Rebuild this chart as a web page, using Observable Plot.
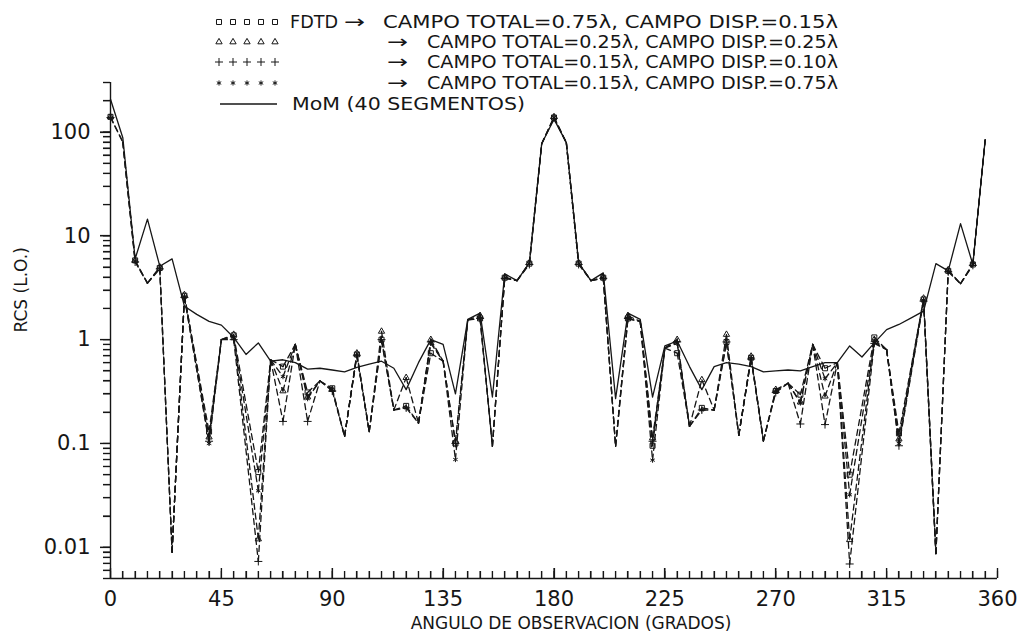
<!DOCTYPE html>
<html><head><meta charset="utf-8">
<script src="https://cdn.jsdelivr.net/npm/d3@7"></script>
<script src="https://cdn.jsdelivr.net/npm/@observablehq/plot@0.6"></script>
<style>
html,body{margin:0;padding:0;background:#fff;}
#wrap{position:relative;width:1020px;height:637px;}
#wrap svg.overlay{position:absolute;left:0;top:0;pointer-events:none;}
</style></head><body><div id="wrap"></div>
<script>
const FONT = '"DejaVu Sans", "Liberation Sans", sans-serif';
const INK = "#161616";

// ---- MoM (40 segmentos), every 5 degrees
const momAngles = [0,5,10,15,20,25,30,35,40,45,50,55,60,65,70,75,80,85,90,95,100,105,110,115,120,125,130,135,140,145,150,155,160,165,170,175,180,185,190,195,200,205,210,215,220,225,230,235,240,245,250,255,260,265,270,275,280,285,290,295,300,305,310,315,320,325,330,335,340,345,350,355];
const momRcs = [207,88,6.0,14.5,5.1,6.0,2.1,1.75,1.5,1.38,1.05,0.72,0.93,0.62,0.64,0.6,0.52,0.53,0.51,0.49,0.54,0.58,0.62,0.53,0.33,0.6,1.0,0.9,0.3,1.57,1.8,0.28,4.3,3.7,5.5,77,133,79,5.5,3.7,4.4,0.27,1.8,1.57,0.28,0.87,0.97,0.55,0.33,0.55,0.6,0.58,0.55,0.49,0.5,0.51,0.5,0.55,0.6,0.6,0.87,0.68,0.93,1.25,1.4,1.62,1.88,5.4,4.6,13.1,5.3,84];

// ---- FDTD, marker angles (every 10 degrees)
const markerAngles = [0,10,20,30,40,50,60,70,80,90,100,110,120,130,140,150,160,170,180,190,200,210,220,230,240,250,260,270,280,290,300,310,320,330,340,350];
const squareRcs   = [140,5.8,4.9,2.65,0.13,1.1,0.053,0.55,0.31,0.34,0.72,1.0,0.23,0.74,0.1,1.6,3.95,5.4,138,5.4,3.95,1.6,0.095,0.74,0.22,0.95,0.67,0.32,0.295,0.53,0.05,1.05,0.125,2.44,4.6,5.3];
const triangleRcs = [140,5.8,5.0,2.7,0.115,1.12,0.012,0.32,0.28,0.33,0.74,1.2,0.43,1.0,0.105,1.7,4.0,5.5,140,5.5,4.0,1.7,0.113,1.0,0.41,1.12,0.69,0.33,0.25,0.285,0.0118,1.0,0.11,2.5,4.7,5.4];
const plusRcs     = [138,5.6,4.8,2.55,0.105,1.0,0.0073,0.163,0.163,0.32,0.7,1.0,0.22,0.95,0.1,1.6,3.9,5.3,136,5.3,3.9,1.6,0.105,0.95,0.21,0.95,0.65,0.31,0.154,0.152,0.0069,0.92,0.095,2.35,4.5,5.2];
const starRcs     = [138,5.7,4.9,2.6,0.1,1.05,0.035,0.44,0.27,0.33,0.71,0.97,0.22,0.92,0.07,1.58,3.95,5.4,138,5.4,3.95,1.58,0.069,0.92,0.21,0.92,0.66,0.32,0.245,0.42,0.032,0.95,0.1,2.4,4.6,5.3];

// ---- FDTD, shared intermediate vertices of the dashed curves (null = no vertex)
const betweenAngles = [5,15,25,35,45,55,65,75,85,95,105,115,125,135,145,155,165,175,185,195,205,215,225,235,245,255,265,275,285,295,305,315,325,335,345,355];
const betweenRcs = [80,3.5,0.009,null,1.0,null,0.64,0.9,0.4,0.117,0.13,0.21,0.157,0.62,1.55,0.094,3.7,77,79,3.7,0.094,1.5,0.83,0.146,0.21,0.12,0.106,0.38,0.9,0.6,null,0.8,null,0.0087,3.46,84];

// ---- texts and ticks
const legendTexts = [
  "CAMPO TOTAL=0.75λ, CAMPO DISP.=0.15λ",
  "CAMPO TOTAL=0.25λ, CAMPO DISP.=0.25λ",
  "CAMPO TOTAL=0.15λ, CAMPO DISP.=0.10λ",
  "CAMPO TOTAL=0.15λ, CAMPO DISP.=0.75λ"
];
const legendFdtd = "FDTD";
const legendMom = "MoM (40 SEGMENTOS)";
const xTitle = "ANGULO DE OBSERVACION (GRADOS)";
const yTitle = "RCS (L.O.)";
const xDomain = [0, 360];
const yDomain = [0.005, 300];
const xMajorTicks = [0,45,90,135,180,225,270,315,360];
const xMinorTicks = d3.range(0, 361, 5);
const yMajorTicks = [0.01, 0.1, 1, 10, 100];
const yTickLabels = ["0.01", "0.1", "1", "10", "100"];
const yMinorTicks = [];
for (let e = -3; e <= 2; e++) for (let m = 1; m <= 9; m++) {
  const v = +(m * Math.pow(10, e)).toPrecision(3);
  if (v >= yDomain[0] && v <= yDomain[1]) yMinorTicks.push(v);
}

// ---- layout
const W = 1020, H = 637, mL = 110, mR = 23, mT = 82, mB = 59;
const frameW = W - mL - mR, frameH = H - mT - mB;

// ---- tables
const mom = momAngles.map((a, i) => ({angle: a, rcs: momRcs[i]}));
const series = [
  {key: "sq", symbol: "square2", r: 3.2, values: squareRcs, d3sym: d3.symbolSquare2},
  {key: "tr", symbol: "triangle2", r: 3.0, values: triangleRcs, d3sym: d3.symbolTriangle2},
  {key: "pl", symbol: "plus", r: 2.7, values: plusRcs, d3sym: d3.symbolPlus},
  {key: "st", symbol: "asterisk", r: 2.4, values: starRcs, d3sym: d3.symbolAsterisk}
];
// each dashed curve is split into its segments so that coinciding pieces keep the same dash phase
const fdtdSegments = [];
const seen = new Set();
for (const s of series) {
  const pts = markerAngles.map((a, i) => ({angle: a, rcs: s.values[i]}))
    .concat(betweenAngles.map((a, i) => ({angle: a, rcs: betweenRcs[i]})).filter(d => d.rcs != null))
    .sort((p, q) => p.angle - q.angle);
  for (let i = 1; i < pts.length; i++) {
    const a = pts[i - 1], b = pts[i];
    const id = `${a.angle}:${a.rcs}-${b.angle}:${b.rcs}`;
    if (seen.has(id)) continue;
    seen.add(id);
    fdtdSegments.push({seg: id, angle: a.angle, rcs: a.rcs}, {seg: id, angle: b.angle, rcs: b.rcs});
  }
}

const dotMarks = series.map(s => Plot.dot(markerAngles.map((a, i) => ({angle: a, rcs: s.values[i]})), {
  x: "angle", y: "rcs", symbol: s.symbol, r: s.r, stroke: INK, strokeWidth: 1, fill: "none"
}));

const chart = Plot.plot({
  width: W, height: H,
  marginLeft: mL, marginRight: mR, marginTop: mT, marginBottom: mB,
  x: {domain: xDomain},
  y: {type: "log", domain: yDomain},
  style: {fontFamily: FONT, color: INK, background: "white"},
  marks: [
    Plot.line(mom, {x: "angle", y: "rcs", stroke: INK, strokeWidth: 1.3}),
    Plot.line(fdtdSegments, {x: "angle", y: "rcs", z: "seg", stroke: INK, strokeWidth: 1.3, strokeDasharray: "6,4"}),
    ...dotMarks,
    Plot.tickY(yMinorTicks, {y: d => d, insetLeft: -7, insetRight: frameW, stroke: INK, strokeWidth: 1.2}),
    Plot.tickY(yMajorTicks, {y: d => d, insetLeft: -10, insetRight: frameW, stroke: INK, strokeWidth: 1.2}),
    Plot.tickX(xMinorTicks, {x: d => d, insetTop: frameH - 7, stroke: INK, strokeWidth: 1.2}),
    Plot.tickX(xMajorTicks, {x: d => d, insetTop: frameH - 10, stroke: INK, strokeWidth: 1.2}),
    Plot.axisY({ticks: yMajorTicks, tickSize: 0, tickPadding: 20, tickFormat: d => yTickLabels[yMajorTicks.indexOf(d)], label: null, fontSize: 21, fill: INK}),
    Plot.axisX({ticks: xMajorTicks, tickSize: 0, tickPadding: 13, tickFormat: d => String(d), label: null, fontSize: 21, fill: INK}),
    Plot.ruleX([xDomain[0]], {stroke: INK, strokeWidth: 1.4}),
    Plot.ruleY([yDomain[0]], {stroke: INK, strokeWidth: 1.4}),
    Plot.text([xTitle], {text: d => d, frameAnchor: "bottom", dx: 17, dy: 50, fontSize: 17, fill: INK}),
    Plot.text([yTitle], {text: d => d, frameAnchor: "left", rotate: -90, dx: -89, dy: 2, fontSize: 17, fill: INK})
  ]
});
const wrap = document.getElementById("wrap");
wrap.appendChild(chart);

// make sure the FDTD curves keep their dash pattern
const lineGroups = chart.querySelectorAll('g[aria-label="line"]');
if (lineGroups.length > 1) {
  d3.select(lineGroups[1]).selectAll("path").style("stroke-dasharray", "6 4").style("stroke-width", "1.3px");
}

// ---- overlay: axis ticks (through the chart's own scales) and legend
const xs = chart.scale("x"), ys = chart.scale("y");
const ov = d3.create("svg").attr("class", "overlay").attr("width", W).attr("height", H)
  .style("font-family", FONT).attr("fill", INK);
const tg = ov.append("g").attr("stroke", INK).attr("stroke-width", 1.2);
xMinorTicks.forEach(t => {
  const x = Math.round(xs.apply(t)) + 0.5;
  const len = xMajorTicks.includes(t) ? 10 : 7;
  tg.append("line").attr("x1", x).attr("x2", x).attr("y1", H - mB).attr("y2", H - mB - len);
});
yMinorTicks.forEach(t => {
  const y = Math.round(ys.apply(t)) + 0.5;
  const len = yMajorTicks.includes(t) ? 10 : 7;
  tg.append("line").attr("x1", mL).attr("x2", mL - len).attr("y1", y).attr("y2", y);
});

const rowY = [22, 42, 62, 83, 104];
const markerX = [219, 233, 247, 261, 275];
series.forEach((s, row) => {
  markerX.forEach(x => {
    ov.append("path")
      .attr("d", d3.symbol().type(s.d3sym).size(Math.PI * s.r * s.r)())
      .attr("transform", `translate(${x},${rowY[row]})`)
      .attr("fill", "none").attr("stroke", INK).attr("stroke-width", 1);
  });
  const arrowX = row === 0 ? 344 : 387;
  const textX = row === 0 ? 383 : 427;
  const textW = row === 0 ? 455 : 411;
  if (row === 0) {
    ov.append("text").attr("x", 290).attr("y", rowY[row]).attr("dy", "0.36em")
      .attr("font-size", 18).attr("textLength", 48).attr("lengthAdjust", "spacingAndGlyphs").text(legendFdtd);
  }
  ov.append("text").attr("x", arrowX).attr("y", rowY[row]).attr("dy", "0.36em")
    .attr("font-size", 18).attr("textLength", 21).attr("lengthAdjust", "spacingAndGlyphs").text("→");
  ov.append("text").attr("x", textX).attr("y", rowY[row]).attr("dy", "0.36em")
    .attr("font-size", 18).attr("textLength", textW).attr("lengthAdjust", "spacingAndGlyphs").text(legendTexts[row]);
});
ov.append("line").attr("x1", 220).attr("x2", 277).attr("y1", rowY[4]).attr("y2", rowY[4])
  .attr("stroke", INK).attr("stroke-width", 1.3);
ov.append("text").attr("x", 292).attr("y", rowY[4]).attr("dy", "0.36em")
  .attr("font-size", 18).attr("textLength", 233).attr("lengthAdjust", "spacingAndGlyphs").text(legendMom);
wrap.appendChild(ov.node());
</script></body></html>
